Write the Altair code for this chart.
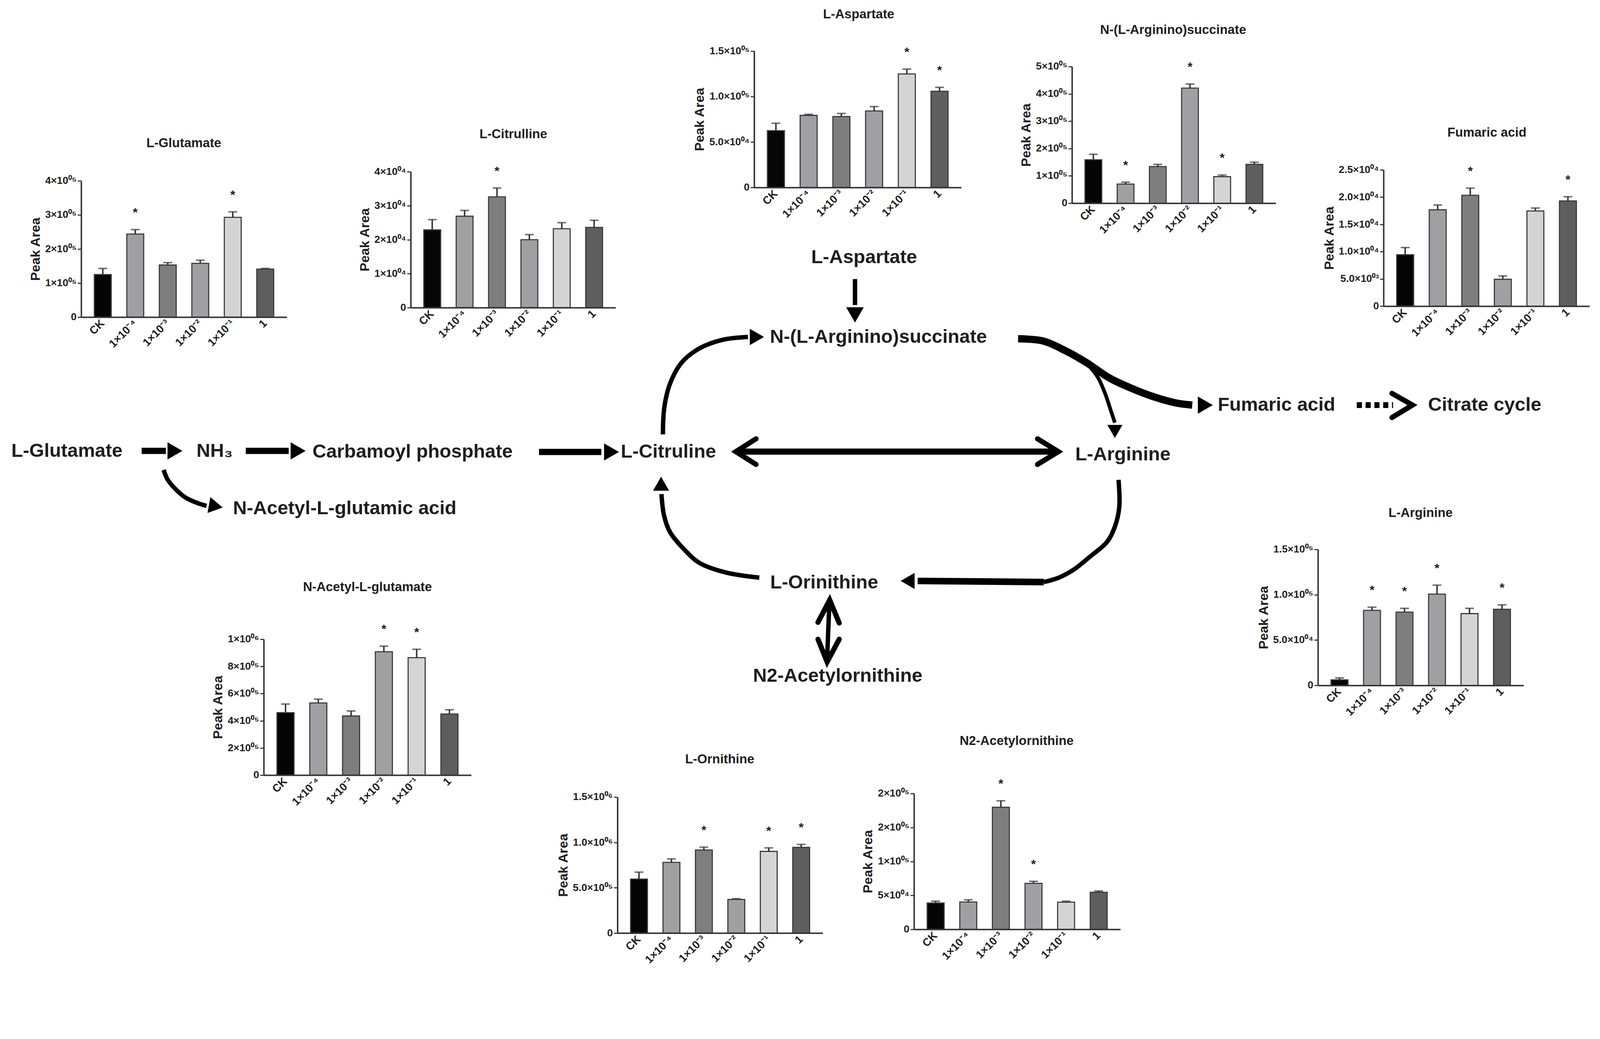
import altair as alt
import pandas as pd

FONT = "Liberation Sans"

# ---------------- data ----------------
GROUPS = ["CK", "1×10⁻⁴", "1×10⁻³", "1×10⁻²", "1×10⁻¹", "1"]
BAR_COLORS = ["#050505", "#a0a0a4", "#7e7e7e", "#a0a0a4", "#d4d4d4", "#5e5e5e"]

GLU_MEAN = [1.25e5, 2.44e5, 1.53e5, 1.58e5, 2.93e5, 1.41e5]
GLU_ERR = [0.18e5, 0.13e5, 0.07e5, 0.09e5, 0.16e5, 0.02e5]
GLU_SIG = [0, 1, 0, 0, 1, 0]
GLU_TICKS = [0, 1e5, 2e5, 3e5, 4e5]
GLU_TICK_LABELS = ["0", "1×10⁰⁵", "2×10⁰⁵", "3×10⁰⁵", "4×10⁰⁵"]

CIT_MEAN = [2.29e4, 2.69e4, 3.26e4, 2.00e4, 2.32e4, 2.36e4]
CIT_ERR = [0.30e4, 0.17e4, 0.26e4, 0.15e4, 0.18e4, 0.21e4]
CIT_SIG = [0, 0, 1, 0, 0, 0]
CIT_TICKS = [0, 1e4, 2e4, 3e4, 4e4]
CIT_TICK_LABELS = ["0", "1×10⁰⁴", "2×10⁰⁴", "3×10⁰⁴", "4×10⁰⁴"]

ASP_MEAN = [6.25e4, 7.93e4, 7.81e4, 8.42e4, 12.49e4, 10.59e4]
ASP_ERR = [0.82e4, 0.12e4, 0.33e4, 0.48e4, 0.53e4, 0.43e4]
ASP_SIG = [0, 0, 0, 0, 1, 1]
ASP_TICKS = [0, 5e4, 1e5, 1.5e5]
ASP_TICK_LABELS = ["0", "5.0×10⁰⁴", "1.0×10⁰⁵", "1.5×10⁰⁵"]

ASA_MEAN = [1.59e5, 0.70e5, 1.34e5, 4.21e5, 0.97e5, 1.42e5]
ASA_ERR = [0.20e5, 0.07e5, 0.08e5, 0.15e5, 0.06e5, 0.08e5]
ASA_SIG = [0, 1, 0, 1, 1, 0]
ASA_TICKS = [0, 1e5, 2e5, 3e5, 4e5, 5e5]
ASA_TICK_LABELS = ["0", "1×10⁰⁵", "2×10⁰⁵", "3×10⁰⁵", "4×10⁰⁵", "5×10⁰⁵"]

FUM_MEAN = [9.43e3, 17.68e3, 20.34e3, 4.93e3, 17.46e3, 19.30e3]
FUM_ERR = [1.32e3, 0.88e3, 1.31e3, 0.61e3, 0.54e3, 0.77e3]
FUM_SIG = [0, 0, 1, 0, 0, 1]
FUM_TICKS = [0, 5e3, 1e4, 1.5e4, 2e4, 2.5e4]
FUM_TICK_LABELS = ["0", "5.0×10⁰³", "1.0×10⁰⁴", "1.5×10⁰⁴", "2.0×10⁰⁴", "2.5×10⁰⁴"]

ARG_MEAN = [6.1e3, 8.28e4, 8.09e4, 10.07e4, 7.92e4, 8.40e4]
ARG_ERR = [2.1e3, 0.35e4, 0.41e4, 0.99e4, 0.58e4, 0.48e4]
ARG_SIG = [0, 1, 1, 1, 0, 1]
ARG_TICKS = [0, 5e4, 1e5, 1.5e5]
ARG_TICK_LABELS = ["0", "5.0×10⁰⁴", "1.0×10⁰⁵", "1.5×10⁰⁵"]

NAG_MEAN = [4.60e5, 5.31e5, 4.35e5, 9.08e5, 8.64e5, 4.50e5]
NAG_ERR = [0.63e5, 0.28e5, 0.37e5, 0.41e5, 0.62e5, 0.31e5]
NAG_SIG = [0, 0, 0, 1, 1, 0]
NAG_TICKS = [0, 2e5, 4e5, 6e5, 8e5, 1e6]
NAG_TICK_LABELS = ["0", "2×10⁰⁵", "4×10⁰⁵", "6×10⁰⁵", "8×10⁰⁵", "1×10⁰⁶"]

ORN_MEAN = [5.96e5, 7.80e5, 9.17e5, 3.71e5, 9.01e5, 9.46e5]
ORN_ERR = [0.76e5, 0.38e5, 0.31e5, 0.08e5, 0.39e5, 0.32e5]
ORN_SIG = [0, 0, 1, 0, 1, 1]
ORN_TICKS = [0, 5e5, 1e6, 1.5e6]
ORN_TICK_LABELS = ["0", "5.0×10⁰⁵", "1.0×10⁰⁶", "1.5×10⁰⁶"]

NAO_MEAN = [3.89e4, 4.03e4, 17.97e4, 6.77e4, 4.00e4, 5.46e4]
NAO_ERR = [0.26e4, 0.32e4, 0.95e4, 0.30e4, 0.15e4, 0.19e4]
NAO_SIG = [0, 0, 1, 1, 0, 0]
NAO_TICKS = [0, 5e4, 1e5, 1.5e5, 2e5]
NAO_TICK_LABELS = ["0", "5×10⁰⁴", "1×10⁰⁵", "2×10⁰⁵", "2×10⁰⁵"]

PANEL_TITLES = ["L-Glutamate", "L-Citrulline", "L-Aspartate", "N-(L-Arginino)succinate",
                "Fumaric acid", "L-Arginine", "N-Acetyl-L-glutamate", "L-Ornithine",
                "N2-Acetylornithine"]

NODE_LABELS = ["L-Glutamate", "NH₃", "Carbamoyl phosphate", "L-Citruline",
               "N-Acetyl-L-glutamic acid", "L-Aspartate", "N-(L-Arginino)succinate",
               "L-Arginine", "Fumaric acid", "Citrate cycle", "L-Orinithine",
               "N2-Acetylornithine"]

# ---------------- layout (page pixels of the reference) ----------------
OFF_X = 8
OFF_Y = 8 + 84
W, H = 4348, 2560

# y-axis x, x-axis end, top tick y, zero y
PANEL_BOX = [
    (221, 782, 493, 865),
    (1120, 1679, 468, 839),
    (2057, 2622, 139, 511),
    (2924, 3480, 181, 554),
    (3774, 4336, 463, 835),
    (3595, 4156, 1499, 1870),
    (719, 1285, 1744, 2115),
    (1684, 2244, 2175, 2546),
    (2493, 3056, 2165, 2536),
]
PANEL_TITLE_X = [501, 1400, 2342, 3200, 4056, 3875, 1002, 1963, 2773]
PANEL_TITLE_Y = [390, 366, 39, 81, 361, 1399, 1602, 2072, 2022]

NODE_X = [182, 585, 1125, 1823, 940, 2357, 2396, 3063, 3482, 4050, 2248, 2285]
NODE_Y = [1230, 1230, 1232, 1232, 1387, 702, 919, 1240, 1105, 1105, 1589, 1844]

SHAFTS = [
    ("glu_nh3", 17, [(386, 1230), (452, 1230)]),
    ("nh3_cp", 17, [(670, 1230), (787, 1230)]),
    ("cp_cit", 17, [(1470, 1233), (1640, 1233)]),
    ("cit_arg", 17, [(2012, 1232), (2883, 1232)]),
    ("asp_asa", 12, [(2332, 761), (2332, 832)]),
    ("cit_asa", 12, [(1808, 1185), (1812, 1110), (1828, 1045), (1860, 988), (1908, 950),
                     (1970, 927), (2040, 919)]),
    ("asa_fum", 20, [(2777, 924), (2845, 930), (2905, 956), (2965, 990), (3026, 1031),
                     (3086, 1059), (3146, 1082), (3207, 1099), (3252, 1105)]),
    ("asa_arg", 10, [(2968, 995), (2995, 1030), (3015, 1075), (3030, 1120), (3041, 1153)]),
    ("arg_orn1", 12, [(3051, 1309), (3053, 1384), (3041, 1437), (3020, 1478), (2974, 1518),
                      (2929, 1554), (2888, 1576), (2847, 1588)]),
    ("arg_orn2", 18, [(2847, 1588), (2503, 1585)]),
    ("orn_cit", 12, [(2071, 1576), (1980, 1562), (1908, 1536), (1867, 1500), (1827, 1451),
                     (1811, 1406), (1804, 1348)]),
    ("nh3_nag", 12, [(446, 1282), (456, 1307), (477, 1333), (505, 1357), (540, 1373),
                     (563, 1380)]),
    ("orn_nao", 12, [(2262, 1645), (2256, 1798)]),
]
DOTTED = [(3701, 1105), (3800, 1105)]
CHEVRONS = [
    ("ca_l", [(2062, 1197), (2007, 1232), (2062, 1267)]),
    ("ca_r", [(2830, 1197), (2887, 1232), (2830, 1267)]),
    ("on_t", [(2231, 1698), (2263, 1637), (2289, 1700)]),
    ("on_b", [(2231, 1744), (2256, 1806), (2289, 1744)]),
    ("tca", [(3797, 1073), (3853, 1105), (3797, 1139)]),
]
# centre x, centre y, rotation, symbol area
HEADS = [
    (470, 1230, 90, 2209), (806, 1230, 90, 2209), (1661, 1233, 90, 2209),
    (2332, 852, 180, 2304), (2058, 919, 90, 2000), (3041, 1171, 180, 1700),
    (3281, 1105, 90, 2209), (2482, 1585, 270, 1936), (1803, 1326, 0, 1936),
    (582, 1380, 100, 1936),
]

DATA = [
    (GLU_MEAN, GLU_ERR, GLU_SIG, GLU_TICKS, GLU_TICK_LABELS),
    (CIT_MEAN, CIT_ERR, CIT_SIG, CIT_TICKS, CIT_TICK_LABELS),
    (ASP_MEAN, ASP_ERR, ASP_SIG, ASP_TICKS, ASP_TICK_LABELS),
    (ASA_MEAN, ASA_ERR, ASA_SIG, ASA_TICKS, ASA_TICK_LABELS),
    (FUM_MEAN, FUM_ERR, FUM_SIG, FUM_TICKS, FUM_TICK_LABELS),
    (ARG_MEAN, ARG_ERR, ARG_SIG, ARG_TICKS, ARG_TICK_LABELS),
    (NAG_MEAN, NAG_ERR, NAG_SIG, NAG_TICKS, NAG_TICK_LABELS),
    (ORN_MEAN, ORN_ERR, ORN_SIG, ORN_TICKS, ORN_TICK_LABELS),
    (NAO_MEAN, NAO_ERR, NAO_SIG, NAO_TICKS, NAO_TICK_LABELS),
]

INK = "#1e1e1e"
LINE = "#333333"


def label_expr(ticks, labels):
    top = max(ticks)
    parts = [f"abs(datum.value - {t}) < {top * 1e-6} ? '{l}'" for t, l in zip(ticks, labels)]
    return " : ".join(parts) + " : ''"


def make_panel(i):
    means, errs, sig, ticks, tlabels = DATA[i]
    ax, xend, ytop, yzero = PANEL_BOX[i]
    df = pd.DataFrame({
        "g": GROUPS,
        "v": means,
        "top": [m + e for m, e in zip(means, errs)],
        "star": ["*" if s else "" for s in sig],
        "col": BAR_COLORS,
    })
    xscale = alt.Scale(type="band", range=[ax - OFF_X, xend - OFF_X],
                       paddingInner=0.48, paddingOuter=0.404)
    xaxis = alt.Axis(orient="bottom", offset=(yzero - OFF_Y) - H, title="",
                     labelAngle=315, labelAlign="right", labelBaseline="middle",
                     labelFontSize=30, labelFontWeight="bold", labelColor=INK,
                     labelFont=FONT, labelPadding=12, ticks=False, tickSize=0,
                     domainColor=LINE, domainWidth=4, labelOverlap=False, zindex=1)
    yscale = alt.Scale(domain=[0, max(ticks)], range=[yzero - OFF_Y, ytop - OFF_Y],
                       nice=False, zero=True)
    yaxis = alt.Axis(orient="left", offset=-(ax - OFF_X), values=ticks,
                     labelExpr=label_expr(ticks, tlabels), title="Peak Area",
                     titleFontSize=36, titleFontWeight="bold", titleColor=INK,
                     titleFont=FONT, titlePadding=6, labelFontSize=28,
                     labelFontWeight="bold", labelColor=INK, labelFont=FONT,
                     labelPadding=3, labelOverlap=False, labelFlush=False,
                     tickSize=10, tickWidth=3, tickColor=LINE, domainColor=LINE,
                     domainWidth=4, grid=False, zindex=1)
    x = alt.X("g:N", sort=GROUPS, scale=xscale, axis=xaxis)
    base = alt.Chart(df)
    bars = base.mark_bar(stroke="#3a3a3a", strokeWidth=3).encode(
        x=x, y=alt.Y("v:Q", scale=yscale, axis=yaxis),
        color=alt.Color("col:N", scale=None))
    rule = base.mark_rule(color=LINE, strokeWidth=4).encode(
        x=x, y=alt.Y("v:Q", scale=yscale, axis=yaxis), y2="top:Q")
    cap = base.mark_tick(color=LINE, size=24, thickness=4).encode(
        x=x, y=alt.Y("top:Q", scale=yscale, axis=yaxis))
    stars = base.transform_filter("datum.star != ''").mark_text(
        font=FONT, fontSize=34, fontWeight="bold", color=INK,
        baseline="alphabetic", dy=-35).encode(
        x=x, y=alt.Y("top:Q", scale=yscale, axis=yaxis), text="star:N")
    return alt.layer(bars, rule, cap, stars)


# ---------------- pathway diagram ----------------
dx = alt.X("x:Q", scale=alt.Scale(domain=[OFF_X, OFF_X + W], range=[0, W], nice=False, zero=False), axis=None)
dy = alt.Y("y:Q", scale=alt.Scale(domain=[OFF_Y, OFF_Y + H], range=[0, H], nice=False, zero=False), axis=None)

text_rows = [{"t": t, "x": x, "y": y, "fs": 52} for t, x, y in zip(NODE_LABELS, NODE_X, NODE_Y)]
text_rows += [{"t": t, "x": x, "y": y, "fs": 35} for t, x, y in zip(PANEL_TITLES, PANEL_TITLE_X, PANEL_TITLE_Y)]
texts = alt.Chart(pd.DataFrame(text_rows)).mark_text(
    font=FONT, fontWeight="bold", color=INK, align="center", baseline="middle").encode(
    x=dx, y=dy, text="t:N", size=alt.Size("fs:Q", scale=None))

shaft_rows = []
for pid, w, pts in SHAFTS:
    for k, (px, py) in enumerate(pts):
        shaft_rows.append({"pid": pid, "w": w, "i": k, "x": px, "y": py})
shafts = alt.Chart(pd.DataFrame(shaft_rows)).mark_line(
    color="black", interpolate="catmull-rom", strokeCap="butt", strokeJoin="round").encode(
    x=dx, y=dy, detail="pid:N", order="i:Q", strokeWidth=alt.StrokeWidth("w:Q", scale=None))

dot_rows = [{"i": k, "x": px, "y": py} for k, (px, py) in enumerate(DOTTED)]
dotted = alt.Chart(pd.DataFrame(dot_rows)).mark_line(
    color="black", strokeWidth=16, strokeDash=[14, 10], strokeCap="butt").encode(
    x=dx, y=dy, order="i:Q")

chev_rows = []
for pid, pts in CHEVRONS:
    for k, (px, py) in enumerate(pts):
        chev_rows.append({"pid": pid, "i": k, "x": px, "y": py})
chevrons = alt.Chart(pd.DataFrame(chev_rows)).mark_line(
    color="black", strokeWidth=14, strokeCap="round", strokeJoin="miter").encode(
    x=dx, y=dy, detail="pid:N", order="i:Q")

head_rows = [{"x": hx, "y": hy, "a": a, "s": s} for hx, hy, a, s in HEADS]
heads = alt.Chart(pd.DataFrame(head_rows)).mark_point(
    shape="triangle", filled=True, color="black", opacity=1, strokeWidth=0).encode(
    x=dx, y=dy, angle=alt.Angle("a:Q", scale=None), size=alt.Size("s:Q", scale=None))

diagram = alt.layer(shafts, dotted, chevrons, heads, texts)

panels = [make_panel(i) for i in range(len(DATA))]

chart = alt.layer(diagram, *panels).resolve_scale(
    x="independent", y="independent").resolve_axis(
    x="independent", y="independent").properties(
    width=W, height=H, padding=0,
    autosize=alt.AutoSizeParams(type="none"), background="white").configure(
    font=FONT).configure_view(strokeWidth=0)

chart.save("out.html", embed_options={"renderer": "svg", "actions": False})
